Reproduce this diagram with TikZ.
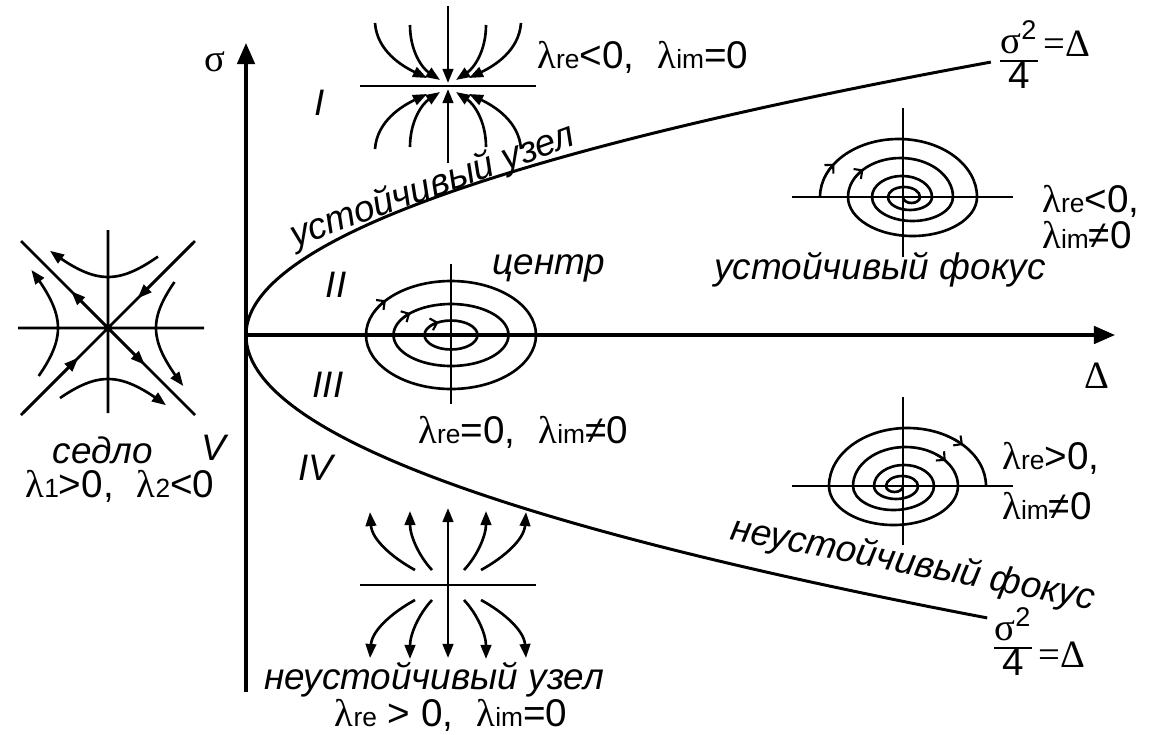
\documentclass[tikz,border=0pt]{standalone}
\usepackage{fontspec}
\setmainfont{Liberation Sans}
\newfontfamily\grfont{Liberation Serif}
\usetikzlibrary{arrows.meta}
\newcommand{\lam}[1]{{\grfont λ}{\fontsize{15}{15}\selectfont #1}}
\newcommand{\gap}{\hspace{0.6em}}
\newcommand{\focusspiral}{%
  \draw[ph] (-83,0) arc[start angle=180,end angle=0,x radius=78.5,y radius=58]
    arc[start angle=0,end angle=-180,x radius=64.5,y radius=39]
    arc[start angle=180,end angle=0,x radius=52.5,y radius=39]
    arc[start angle=0,end angle=-180,x radius=40.5,y radius=24]
    arc[start angle=180,end angle=0,x radius=30,y radius=21]
    arc[start angle=0,end angle=-180,x radius=22,y radius=13]
    arc[start angle=180,end angle=0,x radius=16,y radius=10]
    arc[start angle=0,end angle=-180,x radius=8.5,y radius=6];}
\tikzset{
  axis/.style={line width=1.8pt,-{Triangle[length=12pt,width=10pt]}},
  curve/.style={line width=1.7pt},
  ph/.style={line width=1.5pt},
  frac/.style={line width=1.4pt},
  tip/.style={ph,-{Triangle[length=8pt,width=6pt]}},
  barb/.style={line width=1.2pt,-{Straight Barb[length=3.5pt,width=7pt]}},
  lbl/.style={inner sep=0pt,font=\fontsize{22}{26}\selectfont},
  rus/.style={inner sep=0pt,font=\fontsize{21}{25}\selectfont\itshape}
}
\begin{document}
\begin{tikzpicture}[x=0.02cm,y=0.02cm]
\useasboundingbox (0,0) rectangle (1149,-734);
\coordinate (O) at (246,-335);
\coordinate (sigtop) at (246,-43);
\coordinate (sigbot) at (246,-692);
\coordinate (deltaend) at (1115,-335);
\draw[axis] (sigbot) -- (sigtop);
\draw[axis] (O) -- (deltaend);
\node[lbl] (sig) at (215,-62) {\grfont σ};
\node[lbl] (delta) at (1097,-376) {\grfont Δ};
\draw[curve] plot[domain=0:2.73,samples=80] ({246+100*\x*\x},{-335+100*\x});
\draw[curve] plot[domain=0:2.83,samples=80] ({246+92.6*\x*\x},{-335-100*\x});
\begin{scope}[shift={(108,-328)}]
\draw[ph] (-90,0) -- (96,0) (0,98) -- (0,-85) (-87,87) -- (87,-87) (-87,-87) -- (87,87);
\foreach \a in {45,225} \draw[tip] (\a:120) -- (\a:42);
\foreach \a in {135,315} \draw[tip] (0,0) -- (\a:52);
\draw[tip] plot[domain=50:-58,samples=30] (\x,{sqrt(2601+\x*\x)});
\draw[tip] plot[domain=-48:58,samples=30] (\x,{-sqrt(2601+\x*\x)});
\draw[tip] plot[domain=-48:58,samples=30] ({-sqrt(2500+\x*\x)},\x);
\draw[tip] plot[domain=46:-58,samples=30] ({sqrt(2304+\x*\x)},\x);
\end{scope}
\begin{scope}[shift={(448,-86)}]
\draw[ph] (-88,0) -- (88,0);
\draw[tip] (0,80) -- (0,3);
\draw[tip] (0,-77) -- (0,-3);
\foreach \sx in {1,-1} \foreach \sy in {1,-1} {
  \draw[tip,xscale=\sx,yscale=\sy] (-73,63) .. controls (-71,35) and (-46,20) .. (-21,8);
  \draw[tip,xscale=\sx,yscale=\sy] (-38,61) .. controls (-38,35) and (-26,18) .. (-8,6);
}
\end{scope}
\begin{scope}[shift={(448,-585)}]
\draw[ph] (-88,0) -- (88,0);
\draw[tip] (0,0) -- (0,77);
\draw[tip] (0,0) -- (0,-73);
\foreach \sx in {1,-1} \foreach \sy in {1,-1} {
  \draw[tip,xscale=\sx,yscale=\sy] (-33,15) .. controls (-55,27) and (-76,45) .. (-78,73);
  \draw[tip,xscale=\sx,yscale=\sy] (-16,15) .. controls (-30,30) and (-38,50) .. (-38,74);
}
\end{scope}
\begin{scope}[shift={(451,-335)}]
\draw[ph] (0,71) -- (0,-69);
\foreach \rx/\ry in {85/54,57.5/31,26.5/14.5} \draw[ph] (0,0) ellipse[x radius=\rx,y radius=\ry];
\foreach \rx/\ry/\sa/\ea in {85/54/155/140,57.5/31/150/135,26.5/14.5/140/118}
  \draw[barb] (\sa:{\rx} and {\ry}) arc[start angle=\sa,end angle=\ea,x radius=\rx,y radius=\ry];
\end{scope}
\begin{scope}[shift={(903,-197)}]
\draw[ph] (-111,0) -- (110,0) (0,89) -- (0,-60);
\focusspiral
\draw[barb] (-4.5,0) ++(160:78.5 and 58) arc[start angle=160,end angle=145,x radius=78.5,y radius=58];
\draw[barb] (-2.5,0) ++(150:52.5 and 39) arc[start angle=150,end angle=135,x radius=52.5,y radius=39];
\end{scope}
\begin{scope}[shift={(903,-486)}]
\draw[ph] (-111,0) -- (110,0) (0,89) -- (0,-59);
\begin{scope}[xscale=-1]
\focusspiral
\end{scope}
\draw[barb] (4.5,0) ++(60:78.5 and 58) arc[start angle=60,end angle=45,x radius=78.5,y radius=58];
\draw[barb] (2.5,0) ++(55:52.5 and 39) arc[start angle=55,end angle=40,x radius=52.5,y radius=39];
\end{scope}
\node[lbl,anchor=base west] (stnodelbl) at (537,-68) {\lam{re}<0,\gap\lam{im}=0};
\node[rus] (rI) at (320,-103) {I};
\node[rus,rotate=20] (stnode) at (433,-187) {устойчивый узел};
\node[rus] (rII) at (336,-285) {II};
\node[rus] (centre) at (549,-268) {центр};
\node[rus] (rIII) at (328,-385) {III};
\node[lbl,anchor=base west] (centrelbl) at (418,-443) {\lam{re}=0,\gap\lam{im}≠0};
\node[rus] (rIV) at (316,-468) {IV};
\node[rus] (rV) at (214,-448) {V};
\node[rus] (saddle) at (103,-450) {седло};
\node[lbl,anchor=base] (saddlelbl) at (120,-497) {\lam{1}>0,\gap\lam{2}<0};
\node[rus] (stfocus) at (880,-270) {устойчивый фокус};
\node[lbl,anchor=base west] (stfocusre) at (1042,-212) {\lam{re}<0,};
\node[lbl,anchor=base west] (stfocusim) at (1042,-248) {\lam{im}≠0};
\node[lbl,anchor=base west] (unfocusre) at (1002,-469) {\lam{re}>0,};
\node[lbl,anchor=base west] (unfocusim) at (1002,-519) {\lam{im}≠0};
\node[rus,rotate=-11] (unfocus) at (913,-565) {неустойчивый фокус};
\node[rus] (unnode) at (434,-680) {неустойчивый узел};
\node[lbl,anchor=base] (unnodelbl) at (451,-726) {\lam{re} > 0,\gap\lam{im}=0};
\node[lbl,anchor=base] (frtopnum) at (1019,-53) {{\grfont σ}\textsuperscript{2}};
\node[lbl,anchor=base] (frtopden) at (1019,-88) {4};
\draw[frac] ([yshift=-4.5pt]frtopnum.base west) -- ([yshift=-4.5pt]frtopnum.base east);
\node[lbl,anchor=base west] (frtopeq) at (1043,-56) {\grfont =Δ};
\node[lbl,anchor=base] (frbotnum) at (1013,-640) {{\grfont σ}\textsuperscript{2}};
\node[lbl,anchor=base] (frbotden) at (1013,-675) {4};
\draw[frac] ([yshift=-4.5pt]frbotnum.base west) -- ([yshift=-4.5pt]frbotnum.base east);
\node[lbl,anchor=base west] (frboteq) at (1038,-667) {\grfont =Δ};
\end{tikzpicture}
\end{document}
